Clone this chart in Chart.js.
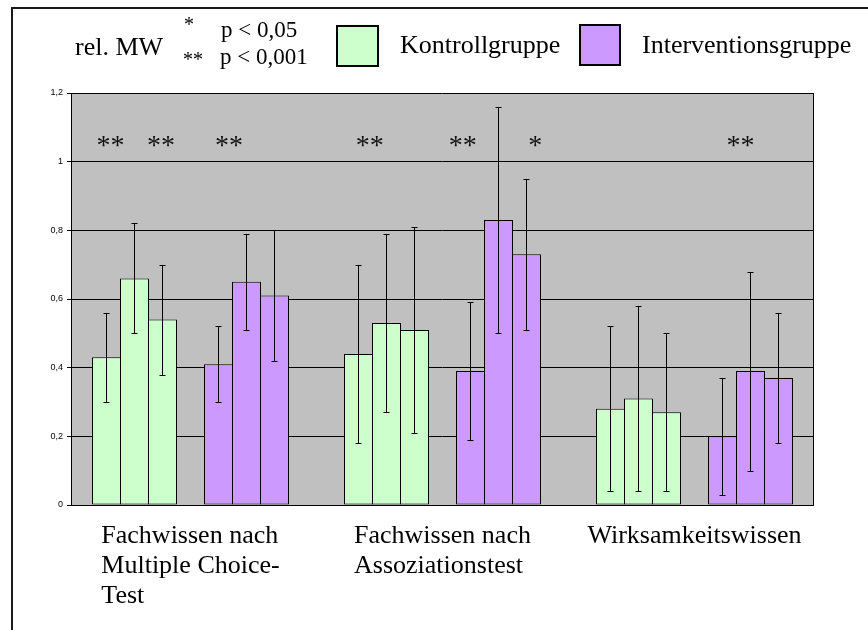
<!DOCTYPE html>
<html>
<head>
<meta charset="utf-8">
<script src="https://cdn.jsdelivr.net/npm/chart.js@4"></script>
<style>
body { margin: 0; width: 868px; height: 630px; overflow: hidden; background: #fff; position: relative; font-family: "Liberation Serif", serif; }
#rahmen { position: absolute; left: 11px; top: 7px; width: 900px; height: 700px; border: 2px solid #1a1a1a; }
#diagramm { position: absolute; left: 0; top: 0; }
.lg { position: absolute; white-space: nowrap; color: #000; line-height: 1; }
.box { position: absolute; border: 2px solid #000; box-sizing: border-box; }
</style>
</head>
<body>
<div id="rahmen"></div>
<canvas id="diagramm" width="868" height="630"></canvas>

<!-- Legende -->
<div class="lg" style="left:75px; top:34px; font-size:26px;">rel. MW</div>
<div class="lg" style="left:184px; top:14px; font-size:20px;">*</div>
<div class="lg" style="left:183px; top:49px; font-size:20px;">**</div>
<div class="lg" style="left:221px; top:18px; font-size:23px;">p &lt; 0,05</div>
<div class="lg" style="left:220px; top:45px; font-size:23px;">p &lt; 0,001</div>
<div class="box" style="left:336px; top:25px; width:43px; height:42px; background:#ccffcc;"></div>
<div class="lg" style="left:400px; top:32px; font-size:26px;">Kontrollgruppe</div>
<div class="box" style="left:579px; top:24px; width:42px; height:42px; background:#cc99ff;"></div>
<div class="lg" style="left:642px; top:32px; font-size:26px;">Interventionsgruppe</div>

<script>
// Kategorien (x-Achse), eine Zeile pro Eintrag
const kategorien = [
    ["Fachwissen nach", "Multiple Choice-", "Test"],
    ["Fachwissen nach", "Assoziationstest"],
    ["Wirksamkeitswissen"]
];

// Mittelwerte Kontrollgruppe (3 Messzeitpunkte)
const kontroll1 = [0.43, 0.44, 0.28];
const kontroll2 = [0.66, 0.53, 0.31];
const kontroll3 = [0.54, 0.51, 0.27];
// Mittelwerte Interventionsgruppe
const interv1 = [0.41, 0.39, 0.20];
const interv2 = [0.65, 0.83, 0.39];
const interv3 = [0.61, 0.73, 0.37];

// Standardabweichungen (Fehlerbalken)
const kontroll1_sd = [0.13, 0.26, 0.24];
const kontroll2_sd = [0.16, 0.26, 0.27];
const kontroll3_sd = [0.16, 0.30, 0.23];
const interv1_sd = [0.11, 0.20, 0.17];
const interv2_sd = [0.14, 0.33, 0.29];
const interv3_sd = [0.19, 0.22, 0.19];

// Signifikanz-Sterne (x in Kategorie-Einheiten)
const sterne = ["**", "**", "**", "**", "**", "*", "**"];
const sterne_x = [-0.317, -0.117, 0.153, 0.711, 1.08, 1.368, 2.183];
const sterne_y = 1.06;

// Ticks der y-Achse
const y_ticks = [0, 0.2, 0.4, 0.6, 0.8, 1, 1.2];

var gruen = "#ccffcc";
var lila = "#cc99ff";

// Werte -> Punkte fuer die lineare x-Achse
function punkte(werte) {
    return werte.map(function (v, i) { return { x: i, y: v }; });
}

function balken(label, werte, sd, farbe) {
    return {
        label: label,
        data: punkte(werte),
        sd: sd,
        backgroundColor: farbe,
        borderColor: "#000",
        borderWidth: 1,
        borderSkipped: false
    };
}

var datensaetze = [
    balken("Kontrollgruppe 1", kontroll1, kontroll1_sd, gruen),
    balken("Kontrollgruppe 2", kontroll2, kontroll2_sd, gruen),
    balken("Kontrollgruppe 3", kontroll3, kontroll3_sd, gruen),
    { label: "", data: punkte([null, null, null]) }, // Luecke zwischen den Gruppen
    balken("Interventionsgruppe 1", interv1, interv1_sd, lila),
    balken("Interventionsgruppe 2", interv2, interv2_sd, lila),
    balken("Interventionsgruppe 3", interv3, interv3_sd, lila)
];

// grauer Hintergrund der Zeichenflaeche
const hintergrund = {
    id: "hintergrund",
    beforeDraw(chart) {
        const a = chart.chartArea, ctx = chart.ctx;
        ctx.save();
        ctx.fillStyle = "#c0c0c0";
        ctx.fillRect(a.left, a.top, a.right - a.left, a.bottom - a.top);
        ctx.restore();
    }
};

// Fehlerbalken
const fehlerbalken = {
    id: "fehlerbalken",
    afterDatasetsDraw(chart) {
        const ctx = chart.ctx, y = chart.scales.y;
        ctx.save();
        ctx.strokeStyle = "#000";
        ctx.lineWidth = 1;
        chart.data.datasets.forEach(function (ds, di) {
            if (!ds.sd) return;
            chart.getDatasetMeta(di).data.forEach(function (bar, i) {
                var v = ds.data[i].y, s = ds.sd[i];
                var x = Math.floor(bar.x) + 0.5;
                var oben = Math.round(y.getPixelForValue(v + s)) + 0.5;
                var unten = Math.round(y.getPixelForValue(v - s)) + 0.5;
                ctx.beginPath();
                ctx.moveTo(x, oben); ctx.lineTo(x, unten);
                ctx.moveTo(x - 3, oben); ctx.lineTo(x + 3, oben);
                ctx.moveTo(x - 3, unten); ctx.lineTo(x + 3, unten);
                ctx.stroke();
            });
        });
        ctx.restore();
    }
};

// Sterne, rechter Rand, Beschriftung der Kategorien
const beschriftung = {
    id: "beschriftung",
    afterDraw(chart) {
        const ctx = chart.ctx, a = chart.chartArea;
        const xs = chart.scales.x, ys = chart.scales.y;
        ctx.save();

        ctx.strokeStyle = "#000";
        ctx.lineWidth = 1;
        ctx.beginPath();
        ctx.moveTo(Math.round(a.right) + 0.5, a.top);
        ctx.lineTo(Math.round(a.right) + 0.5, a.bottom);
        ctx.stroke();

        ctx.fillStyle = "#111";
        ctx.font = '28px "Liberation Serif"';
        ctx.textAlign = "center";
        ctx.textBaseline = "alphabetic";
        var cy = ys.getPixelForValue(sterne_y);
        sterne.forEach(function (t, k) {
            var m = ctx.measureText(t);
            ctx.fillText(t, xs.getPixelForValue(sterne_x[k]), cy + (m.actualBoundingBoxAscent - m.actualBoundingBoxDescent) / 2);
        });

        ctx.fillStyle = "#000";
        ctx.font = '26px "Liberation Serif"';
        ctx.textAlign = "left";
        kategorien.forEach(function (zeilen, i) {
            var breite = 0;
            zeilen.forEach(function (z) { breite = Math.max(breite, ctx.measureText(z).width); });
            var links = xs.getPixelForValue(i) - breite / 2;
            zeilen.forEach(function (z, j) {
                ctx.fillText(z, links, a.bottom + 38 + j * 30);
            });
        });
        ctx.restore();
    }
};

const myChart = new Chart(document.getElementById("diagramm"), {
    type: "bar",
    data: { datasets: datensaetze },
    options: {
        responsive: false,
        animation: false,
        events: [],
        layout: { padding: { left: 0, top: 93, right: 55, bottom: 0 } },
        datasets: { bar: { categoryPercentage: 0.7778, barPercentage: 1.0357 } },
        plugins: { legend: { display: false }, tooltip: { enabled: false } },
        scales: {
            x: {
                type: "linear",
                min: -0.47421,
                max: 2.47023,
                offset: false,
                afterBuildTicks(scale) { scale.ticks = [{ value: 0 }, { value: 1 }, { value: 2 }]; },
                afterFit(scale) { scale.height = 125; },
                ticks: { display: false },
                grid: { display: false },
                border: { color: "#000", width: 1 }
            },
            y: {
                min: 0,
                max: 1.2,
                afterBuildTicks(scale) { scale.ticks = y_ticks.map(function (v) { return { value: v }; }); },
                afterFit(scale) { scale.width = 71; },
                ticks: {
                    color: "#000",
                    padding: 4,
                    font: { family: "Liberation Sans", size: 9 },
                    callback: function (v) { return String(v).replace(".", ","); }
                },
                grid: { color: "#000", lineWidth: 1, tickLength: 4 },
                border: { color: "#000", width: 1 }
            }
        }
    },
    plugins: [hintergrund, fehlerbalken, beschriftung]
});
</script>
</body>
</html>
